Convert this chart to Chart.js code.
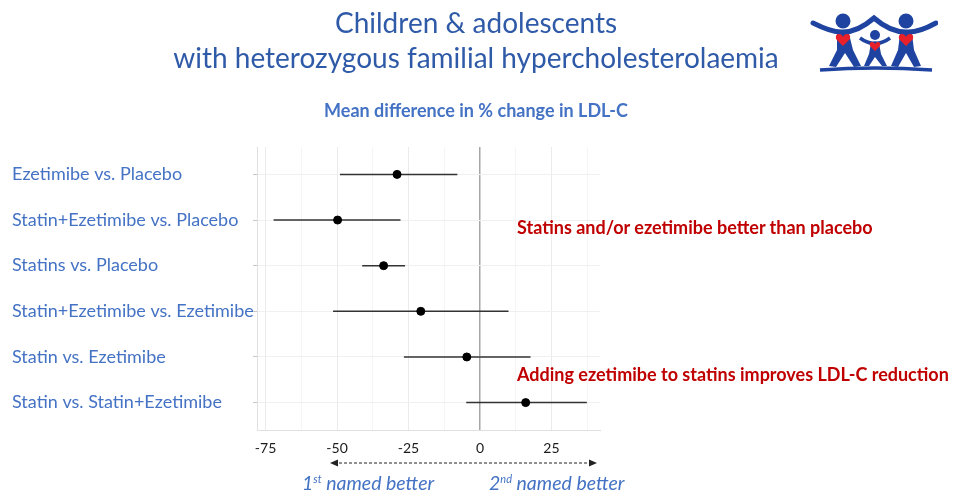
<!DOCTYPE html>
<html>
<head>
<meta charset="utf-8">
<script src="https://cdn.jsdelivr.net/npm/chart.js@4/dist/chart.umd.min.js"></script>
<style>
  body { margin: 0; background: #fff; font-family: Lato, sans-serif; }
  #wrap { position: relative; width: 956px; height: 491px; overflow: hidden; }
  #chart { position: absolute; left: 0; top: 0; }
  .txt { position: absolute; white-space: nowrap; }
  .title { left: 0; width: 952px; text-align: center; color: #2f5aa8; font-size: 28px; }
  .sub { left: 0; width: 952px; text-align: center; color: #4472c4; font-size: 18px; font-weight: bold; top: 99px; }
  .red { color: #c00000; font-size: 18px; font-weight: bold; left: 517px; }
  .better { color: #4472c4; font-size: 19.5px; font-style: italic; top: 471px; }
  .better sup { font-size: 11px; vertical-align: 7px; }
</style>
</head>
<body>
<div id="wrap">
  <canvas id="chart" width="956" height="491"></canvas>
  <div class="txt title" style="top:5px">Children &amp; adolescents</div>
  <div class="txt title" style="top:40px">with heterozygous familial hypercholesterolaemia</div>
  <div class="txt sub">Mean difference in % change in LDL-C</div>
  <div class="txt red" style="top:216px">Statins and/or ezetimibe better than placebo</div>
  <div class="txt red" style="top:363px">Adding ezetimibe to statins improves LDL-C reduction</div>
  <svg class="txt" style="left:300px;top:456px" width="310" height="14">
    <line x1="34" y1="7" x2="292" y2="7" stroke="#222" stroke-width="1.2" stroke-dasharray="3,2"/>
    <path d="M30 7 L38 3.5 L38 10.5 Z" fill="#222"/>
    <path d="M297 7 L289 3.5 L289 10.5 Z" fill="#222"/>
  </svg>
  <div class="txt better" style="left:302px">1<sup>st</sup> named better</div>
  <div class="txt better" style="left:489px">2<sup>nd</sup> named better</div>
  <svg class="txt" style="left:808px;top:8px" width="130" height="66" viewBox="0 0 130 66">
    <g fill="#1f43a0" stroke="#1f43a0">
      <circle cx="35" cy="13" r="7.5" stroke="none"/>
      <circle cx="98" cy="13" r="7.5" stroke="none"/>
      <circle cx="67" cy="27" r="5" stroke="none"/>
      <path d="M5 15 Q25 25 35 24 Q50 24 66 10 Q82 24 98 24 Q110 25 128 15" fill="none" stroke-width="5" stroke-linecap="round"/>
      <path d="M52 30 Q60 36 67 35 Q74 36 82 30" fill="none" stroke-width="3.5"/>
      <path d="M29 26 L41 26 L45 42 L53 58 L46 59 L37 45 L28 59 L21 58 L29 42 Z" stroke="none"/>
      <path d="M92 26 L104 26 L106 42 L113 58 L106 59 L98 45 L90 59 L83 58 L90 42 Z" stroke="none"/>
      <path d="M63 35 L71 35 L73 46 L79 58 L74 58 L67 49 L61 58 L56 58 L61 46 Z" stroke="none"/>
      <path d="M12 62 Q67 58 124 62" fill="none" stroke-width="3.5"/>
    </g>
    <g fill="#e8202a">
      <path d="M35 38 L28 31 Q27 26 31 26 Q34 26 35 29 Q36 26 39 26 Q43 26 42 31 Z"/>
      <path d="M98 38 L91 31 Q90 26 94 26 Q97 26 98 29 Q99 26 102 26 Q106 26 105 31 Z"/>
      <path d="M67 43 L62 38 Q61 34 64 34 Q66 34 67 36 Q68 34 70 34 Q73 34 72 38 Z"/>
    </g>
  </svg>
</div>
<script>
// comparisons, top to bottom
const comparisons = [
  'Ezetimibe vs. Placebo',
  'Statin+Ezetimibe vs. Placebo',
  'Statins vs. Placebo',
  'Statin+Ezetimibe vs. Ezetimibe',
  'Statin vs. Ezetimibe',
  'Statin vs. Statin+Ezetimibe'
];
// mean difference and 95% interval
const meanDiff = [-29, -49.8, -33.7, -20.7, -4.6, 16];
const lowerCI = [-49, -72.2, -41.2, -51.4, -26.6, -4.8];
const upperCI = [-7.9, -27.8, -26.2, 10, 17.7, 37.4];
const xTicks = [-75, -62.5, -50, -37.5, -25, -12.5, 0, 12.5, 25, 37.5];

// one line dataset per interval
const ciSets = comparisons.map((c, i) => ({
  type: 'line',
  data: [{ x: lowerCI[i], y: i + 1 }, { x: upperCI[i], y: i + 1 }],
  borderColor: '#333',
  borderWidth: 1.5,
  pointRadius: 0,
  order: 2
}));

const pointSet = {
  type: 'scatter',
  data: meanDiff.map((v, i) => ({ x: v, y: i + 1 })),
  backgroundColor: '#000',
  borderColor: '#000',
  pointRadius: 4,
  order: 1
};

new Chart(document.getElementById('chart'), {
  type: 'scatter',
  data: { datasets: ciSets.concat([pointSet]) },
  options: {
    responsive: false,
    animation: false,
    layout: { padding: { left: 12, top: 147, right: 356, bottom: 31 } },
    plugins: { legend: { display: false }, tooltip: { enabled: false } },
    scales: {
      x: {
        type: 'linear',
        min: -78,
        max: 42,
        afterBuildTicks: s => { s.ticks = xTicks.map(v => ({ value: v })); },
        afterFit: s => { s.height = 30; },
        ticks: {
          autoSkip: false,
          maxRotation: 0,
          padding: 6,
          color: '#1a1a1a',
          font: { family: 'Lato', size: 14 },
          callback: v => (v % 25 === 0 ? v : '')
        },
        grid: {
          tickLength: 4,
          tickColor: 'rgba(0,0,0,0)',
          lineWidth: ctx => (ctx.tick && ctx.tick.value === 0 ? 1.5 : 1),
          color: ctx => {
            if (!ctx.tick) return '#eee';
            if (ctx.tick.value === 0) return '#a6a6a6';
            return ctx.tick.value % 25 === 0 ? '#ebebeb' : '#f5f5f5';
          }
        },
        border: { display: true, color: '#e0e0e0' }
      },
      y: {
        type: 'linear',
        reverse: true,
        min: 0.4,
        max: 6.6,
        afterBuildTicks: s => { s.ticks = comparisons.map((c, i) => ({ value: i + 1 })); },
        afterFit: s => { s.width = 245; },
        ticks: {
          crossAlign: 'far',
          color: '#4472c4',
          font: { family: 'Lato', size: 18 },
          callback: v => comparisons[v - 1] || ''
        },
        grid: { color: '#f0f0f0', tickLength: 4, tickColor: '#c8c8c8' },
        border: { display: true, color: '#e0e0e0' }
      }
    }
  }
});
</script>
</body>
</html>
